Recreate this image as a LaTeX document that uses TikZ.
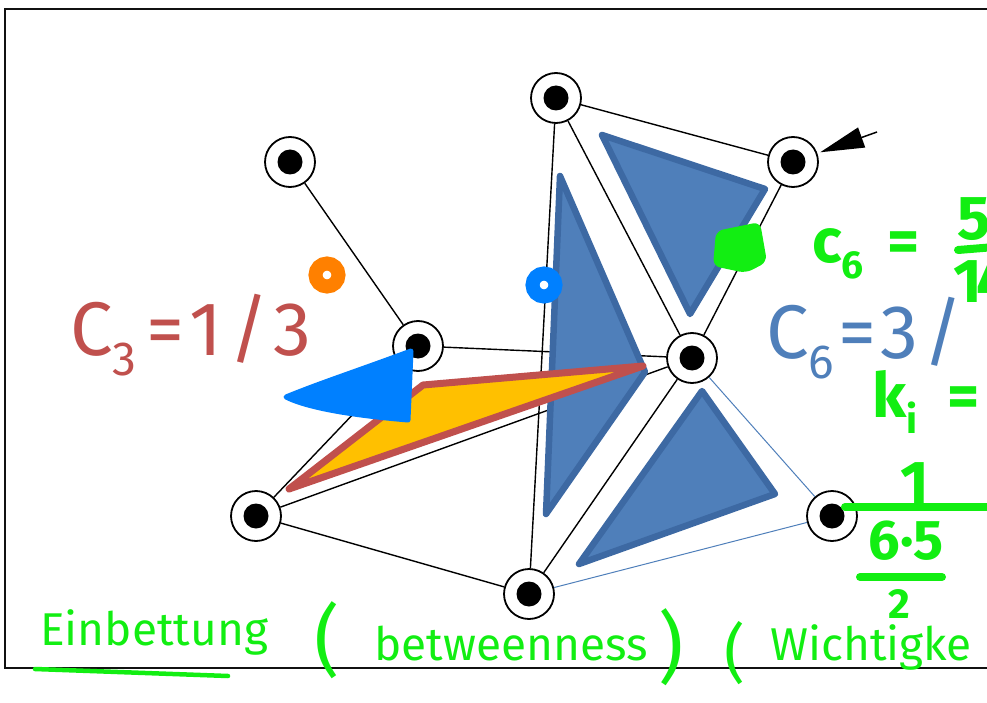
\documentclass[tikz,border=0pt]{standalone}
\usepackage{fontspec}
\setmainfont{Fira Sans}
\usetikzlibrary{arrows.meta, positioning, calc}
\definecolor{framecol}{HTML}{111111}
\definecolor{cthreered}{HTML}{C0504D}
\definecolor{csixblue}{HTML}{4F7FBA}
\definecolor{cliquefill}{HTML}{4F7FBA}
\definecolor{cliqueborder}{HTML}{3D69A3}
\definecolor{wedgefill}{HTML}{FFC000}
\definecolor{penblue}{HTML}{0080FF}
\definecolor{penorange}{HTML}{FF8000}
\definecolor{pengreen}{HTML}{12EE12}
\newcommand{\lowidx}[1]{\raisebox{-0.27em}{\scalebox{0.63}{#1}}}
\tikzset{
  frame/.style={draw=framecol, line width=2pt},
  vertex/.style={circle, draw=black, line width=1.8pt, fill=white,
                 minimum size=50pt, inner sep=0pt,
                 path picture={\fill[black] (path picture bounding box.center) circle (12.5pt);}},
  edge/.style={draw=black, line width=1.4pt},
  thinedge/.style={draw=csixblue, line width=1pt},
  clique/.style={fill=cliquefill, draw=cliqueborder, line width=6.5pt, line join=round},
  wedge/.style={fill=wedgefill, draw=cthreered, line width=7pt, line join=round},
  pointer/.style={-{Triangle[length=44pt, width=21pt]}, line width=1.5pt, draw=black, shorten >=3pt},
  slidelabel/.style={font=\fontsize{76}{80}\selectfont\addfontfeature{LetterSpace=9},
                     anchor=base west, inner sep=0pt},
  penring/.style={circle, line width=14pt, minimum size=23pt, inner sep=0pt, fill=white},
  ink/.style={text=pengreen, inner sep=0pt, anchor=base west},
  inkbold/.style={ink, font=\bfseries\fontsize{62}{64}\selectfont},
  inkhand/.style={ink, font=\fontsize{46}{48}\selectfont},
  inkstroke/.style={draw=pengreen, line width=8pt, line cap=round},
  inkline/.style={draw=pengreen, line width=4.5pt, line cap=round},
}
\def\bigparen{\fontsize{78}{80}\selectfont}
\def\midparen{\fontsize{64}{66}\selectfont}

\begin{document}
\begin{tikzpicture}[x=1pt, y=-1pt]
\useasboundingbox (0,0) rectangle (987,703);
\clip (0,0) rectangle (987,703);

% Slide frame, its right side runs off the page
\draw[frame] (995,9) -- (5,9) -- (5,668) -- (995,668);

% Vertices
\node[vertex] (vtop)    at (556,98)  {};
\node[vertex] (vleaf)   at (290,162) {};
\node[vertex] (vpoint)  at (793,162) {};
\node[vertex] (vthree)  at (418,346) {};
\node[vertex] (vsix)    at (692,358) {};
\node[vertex] (vleft)   at (256,516) {};
\node[vertex] (vright)  at (832,516) {};
\node[vertex] (vbottom) at (529,594) {};

% Edges
\foreach \a/\b in {vleaf/vthree, vthree/vsix, vtop/vbottom, vtop/vsix,
                   vtop/vpoint, vpoint/vsix, vsix/vbottom,
                   vleft/vthree, vleft/vsix, vleft/vbottom}
  \draw[edge] (\a) -- (\b);
\draw[thinedge] (vsix) -- (vright);
\draw[thinedge] (vbottom) -- (vright);

% Closed triangles round node 6
\draw[clique] (560,176) -- (546,514) -- (645,372) -- cycle;
\draw[clique] (602,135) -- (765,189) -- (690,314) -- cycle;
\draw[clique] (702,391) -- (579,564) -- (775,494) -- cycle;

% Open wedge at node 3
\draw[wedge] (289,489) -- (423,385) -- (643,366) -- cycle;

% Arrow onto the upper right vertex
\coordinate (ptail) at (877,132);
\draw[pointer] (ptail) -- (vpoint);

% Slide labels
\node[slidelabel, text=cthreered] (cthree) at (70,355) {C\lowidx{3}\hspace{10pt}=1/3};
\node[slidelabel, text=csixblue] (csix) at (766,358) {C\lowidx{6}\hspace{4pt}=3/};

% Pen marks
\node[penring, draw=penorange] (oring) at (327,275) {};
\node[penring, draw=penblue] (bring) at (544,285) {};
\filldraw[fill=penblue, draw=penblue, line width=5pt, line join=round]
  (411,351) .. controls (360,370) and (320,383) .. (286,397)
  .. controls (310,409) and (360,416) .. (408,420) -- cycle;
\fill[pengreen, rounded corners=7pt]
  (716,231) -- (760,222) -- (767,262) -- (746,273) -- (713,266) -- cycle;

% Green notes, right side
\node[inkbold] (cgreen) at (812,262) {c\lowidx{6}\hspace{24pt}=};
\node[inkbold, anchor=base west] (cfive) at (957,240) {5};
\draw[inkstroke] (958,250) -- (995,247);
\node[inkbold, anchor=base west] (cfourteen) at (953,302) {1\hspace{-6pt}4};
\node[inkbold] (kgreen) at (872,417) {k\lowidx{i}\hspace{30pt}=};
\node[inkbold, anchor=base] (fone) at (915,504) {1};
\draw[inkstroke] (845,507) -- (995,507);
\node[inkbold, anchor=base, font=\bfseries\fontsize{56}{58}\selectfont] (fsixfive) at (906,559) {6·5};
\draw[inkstroke] (860,577) -- (942,577);
\node[inkbold, anchor=base, font=\bfseries\fontsize{42}{44}\selectfont] (ftwo) at (899,618) {2};

% Green notes, bottom line
\node[inkhand] (einb) at (40,645) {Einbettung};
\draw[inkline] (35,669) -- (228,676);
\node[ink, font=\bigparen] (lparen) at (314,667) {(};
\node[inkhand] (betw) at (374,660) {betweenness};
\node[ink, font=\bigparen] (rparen) at (658,674) {)};
\node[ink, font=\midparen] (lparentwo) at (724,675) {(};
\node[inkhand] (wicht) at (770,660) {Wichtigke};

\end{tikzpicture}
\end{document}
